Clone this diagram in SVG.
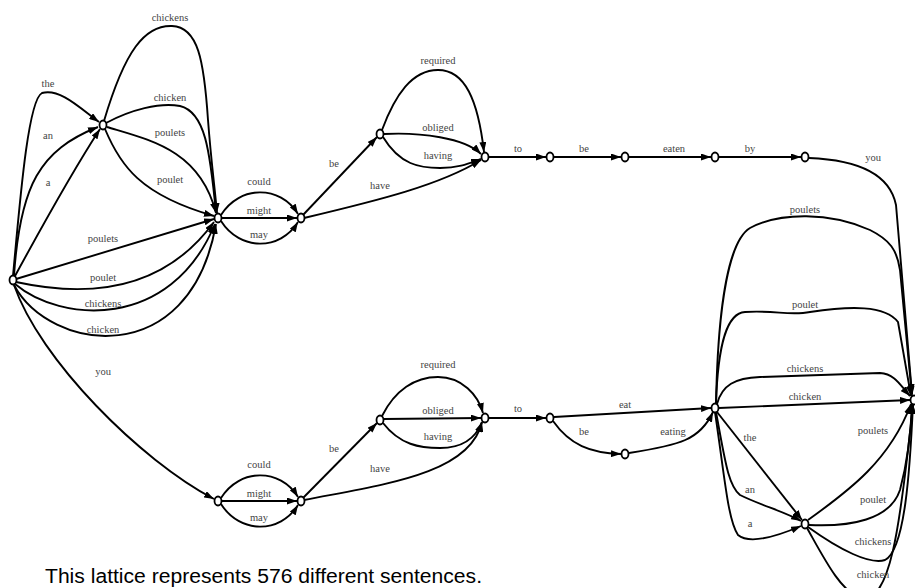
<svg xmlns="http://www.w3.org/2000/svg" width="915" height="588" viewBox="0 0 915 588">
<style>
.e{fill:none;stroke:#000;stroke-width:1.9;marker-end:url(#ah)}
.n{fill:#fff;stroke:#000;stroke-width:1.8}
.l{font-family:"Liberation Serif","Times New Roman",serif;font-size:10.5px;fill:#444;text-anchor:middle}
.cap{font-family:"Liberation Sans",Arial,sans-serif;font-size:20px;fill:#000}
</style>
<defs>
<marker id="ah" markerUnits="userSpaceOnUse" markerWidth="10" markerHeight="7" refX="10" refY="3.5" orient="auto">
<path d="M0,0 L10,3.5 L0,7 z" fill="#000"/>
</marker>
</defs>
<rect width="915" height="588" fill="#fff"/>
<g id="connectors">
<path class="e" d="M13,276 C20,200 28,100 42,93 C60,88 80,108 99,122"/>
<path class="e" d="M14,276 C20,185 40,150 98,127"/>
<path class="e" d="M15,276 C40,230 70,175 100,129"/>
<path class="e" d="M16,279 L214,219"/>
<path class="e" d="M16,282 C80,296 160,296 214,222"/>
<path class="e" d="M15,284 C60,322 170,332 215,224"/>
<path class="e" d="M14,285 C50,352 190,372 216,224"/>
<path class="e" d="M14,285 C40,360 140,460 214,499"/>
<path class="e" d="M104,121 C125,50 145,25 172,26 C198,27 204,60 208,120 C211,160 215,190 217,213"/>
<path class="e" d="M106,123 C130,110 160,102 180,106 C205,112 210,150 216,213"/>
<path class="e" d="M107,127 C150,140 200,150 216,213"/>
<path class="e" d="M105,129 C120,165 140,195 214,216"/>
<path class="e" d="M221,215 C240,185 280,185 298,214"/>
<path class="e" d="M222,218 L297,218"/>
<path class="e" d="M221,221 C240,251 280,251 298,222"/>
<path class="e" d="M303,215 L377,137"/>
<path class="e" d="M304,218 C380,200 440,185 481,160"/>
<path class="e" d="M382,130 C395,95 412,70 438,70 C465,70 478,100 484,152"/>
<path class="e" d="M384,134 C420,132 465,138 481,154"/>
<path class="e" d="M383,137 C400,165 420,168 440,168 C460,168 470,163 481,159"/>
<path class="e" d="M489,157 L546,157"/>
<path class="e" d="M554,157 L621,157"/>
<path class="e" d="M629,157 L711,157"/>
<path class="e" d="M719,157 L801,157"/>
<path class="e" d="M809,158 C860,160 890,175 896,205 L912,394"/>
<path class="e" d="M221,498 C240,468 280,468 298,497"/>
<path class="e" d="M222,501 L297,501"/>
<path class="e" d="M221,504 C240,534 280,534 298,505"/>
<path class="e" d="M303,498 L377,423"/>
<path class="e" d="M304,500 C380,485 470,475 482,422"/>
<path class="e" d="M382,416 C395,390 415,377 438,377 C462,377 478,395 483,413"/>
<path class="e" d="M384,419 L481,418"/>
<path class="e" d="M383,423 C400,445 420,448 440,448 C460,448 475,440 482,422"/>
<path class="e" d="M489,418 L546,418"/>
<path class="e" d="M554,417 L711,408"/>
<path class="e" d="M553,421 C570,445 590,453 621,454"/>
<path class="e" d="M629,453 C680,445 700,440 713,412"/>
<path class="e" d="M719,408 L910,400"/>
<path class="e" d="M717,404 C722,385 735,378 760,377 L880,373 C895,374 900,385 910,396"/>
<path class="e" d="M716,404 C718,340 728,313 745,312 C775,310 790,316 810,312 C850,306 885,305 898,322 L911,396"/>
<path class="e" d="M716,404 C718,300 730,240 750,228 C780,212 830,212 870,230 C890,240 897,250 900,270 L912,396"/>
<path class="e" d="M717,412 L802,520"/>
<path class="e" d="M716,412 C725,460 728,485 740,495 C760,505 785,512 801,521"/>
<path class="e" d="M715,412 C725,480 728,520 738,535 C750,545 780,535 801,526"/>
<path class="e" d="M808,520 C850,490 890,460 911,404"/>
<path class="e" d="M809,525 C850,527 890,520 900,490 C908,460 911,430 912,404"/>
<path class="e" d="M808,527 C840,550 870,565 885,560 C905,550 910,470 913,404"/>
<path class="e" d="M807,528 C825,560 840,590 860,598 C890,605 900,530 913,404"/>
</g>
<g id="labels">
<text class="l" x="48" y="87">the</text>
<text class="l" x="48" y="139">an</text>
<text class="l" x="48" y="186">a</text>
<text class="l" x="170" y="21">chickens</text>
<text class="l" x="170" y="101">chicken</text>
<text class="l" x="170" y="136">poulets</text>
<text class="l" x="170" y="183">poulet</text>
<text class="l" x="103" y="242">poulets</text>
<text class="l" x="103" y="281">poulet</text>
<text class="l" x="103" y="307">chickens</text>
<text class="l" x="103" y="333">chicken</text>
<text class="l" x="103" y="375">you</text>
<text class="l" x="259" y="185">could</text>
<text class="l" x="259" y="214">might</text>
<text class="l" x="259" y="238">may</text>
<text class="l" x="334" y="167">be</text>
<text class="l" x="380" y="189">have</text>
<text class="l" x="438" y="64">required</text>
<text class="l" x="438" y="131">obliged</text>
<text class="l" x="438" y="159">having</text>
<text class="l" x="518" y="152">to</text>
<text class="l" x="584" y="152">be</text>
<text class="l" x="674" y="152">eaten</text>
<text class="l" x="750" y="152">by</text>
<text class="l" x="873" y="161">you</text>
<text class="l" x="805" y="213">poulets</text>
<text class="l" x="805" y="308">poulet</text>
<text class="l" x="805" y="372">chickens</text>
<text class="l" x="805" y="400">chicken</text>
<text class="l" x="259" y="468">could</text>
<text class="l" x="259" y="497">might</text>
<text class="l" x="259" y="521">may</text>
<text class="l" x="334" y="452">be</text>
<text class="l" x="380" y="472">have</text>
<text class="l" x="438" y="368">required</text>
<text class="l" x="438" y="414">obliged</text>
<text class="l" x="438" y="440">having</text>
<text class="l" x="518" y="412">to</text>
<text class="l" x="625" y="408">eat</text>
<text class="l" x="584" y="435">be</text>
<text class="l" x="673" y="435">eating</text>
<text class="l" x="750" y="441">the</text>
<text class="l" x="750" y="493">an</text>
<text class="l" x="750" y="527">a</text>
<text class="l" x="873" y="434">poulets</text>
<text class="l" x="873" y="503">poulet</text>
<text class="l" x="873" y="545">chickens</text>
<text class="l" x="873" y="578">chicken</text>
</g>
<g id="nS"><ellipse class="n" cx="13" cy="280" rx="3.5" ry="4.5"/></g>
<g id="nA"><ellipse class="n" cx="103" cy="125" rx="3.5" ry="4.5"/></g>
<g id="nB"><ellipse class="n" cx="218" cy="218" rx="3.5" ry="4.5"/></g>
<g id="nC"><ellipse class="n" cx="301" cy="218" rx="3.5" ry="4.5"/></g>
<g id="nD"><ellipse class="n" cx="380" cy="134" rx="3.5" ry="4.5"/></g>
<g id="nE"><ellipse class="n" cx="485" cy="157" rx="3.5" ry="4.5"/></g>
<g id="nF"><ellipse class="n" cx="550" cy="157" rx="3.5" ry="4.5"/></g>
<g id="nG"><ellipse class="n" cx="625" cy="157" rx="3.5" ry="4.5"/></g>
<g id="nH"><ellipse class="n" cx="715" cy="157" rx="3.5" ry="4.5"/></g>
<g id="nI"><ellipse class="n" cx="805" cy="157" rx="3.5" ry="4.5"/></g>
<g id="nJ"><ellipse class="n" cx="218" cy="501" rx="3.5" ry="4.5"/></g>
<g id="nK"><ellipse class="n" cx="301" cy="501" rx="3.5" ry="4.5"/></g>
<g id="nL"><ellipse class="n" cx="380" cy="420" rx="3.5" ry="4.5"/></g>
<g id="nM"><ellipse class="n" cx="485" cy="418" rx="3.5" ry="4.5"/></g>
<g id="nN"><ellipse class="n" cx="550" cy="418" rx="3.5" ry="4.5"/></g>
<g id="nO"><ellipse class="n" cx="625" cy="454" rx="3.5" ry="4.5"/></g>
<g id="nP"><ellipse class="n" cx="715" cy="408" rx="3.5" ry="4.5"/></g>
<g id="nQ"><ellipse class="n" cx="805" cy="524" rx="3.5" ry="4.5"/></g>
<g id="nZ"><ellipse class="n" cx="914" cy="400" rx="3.5" ry="4.5"/></g>
<text class="cap" x="45" y="583" textLength="437" lengthAdjust="spacingAndGlyphs">This lattice represents 576 different sentences.</text>
</svg>
